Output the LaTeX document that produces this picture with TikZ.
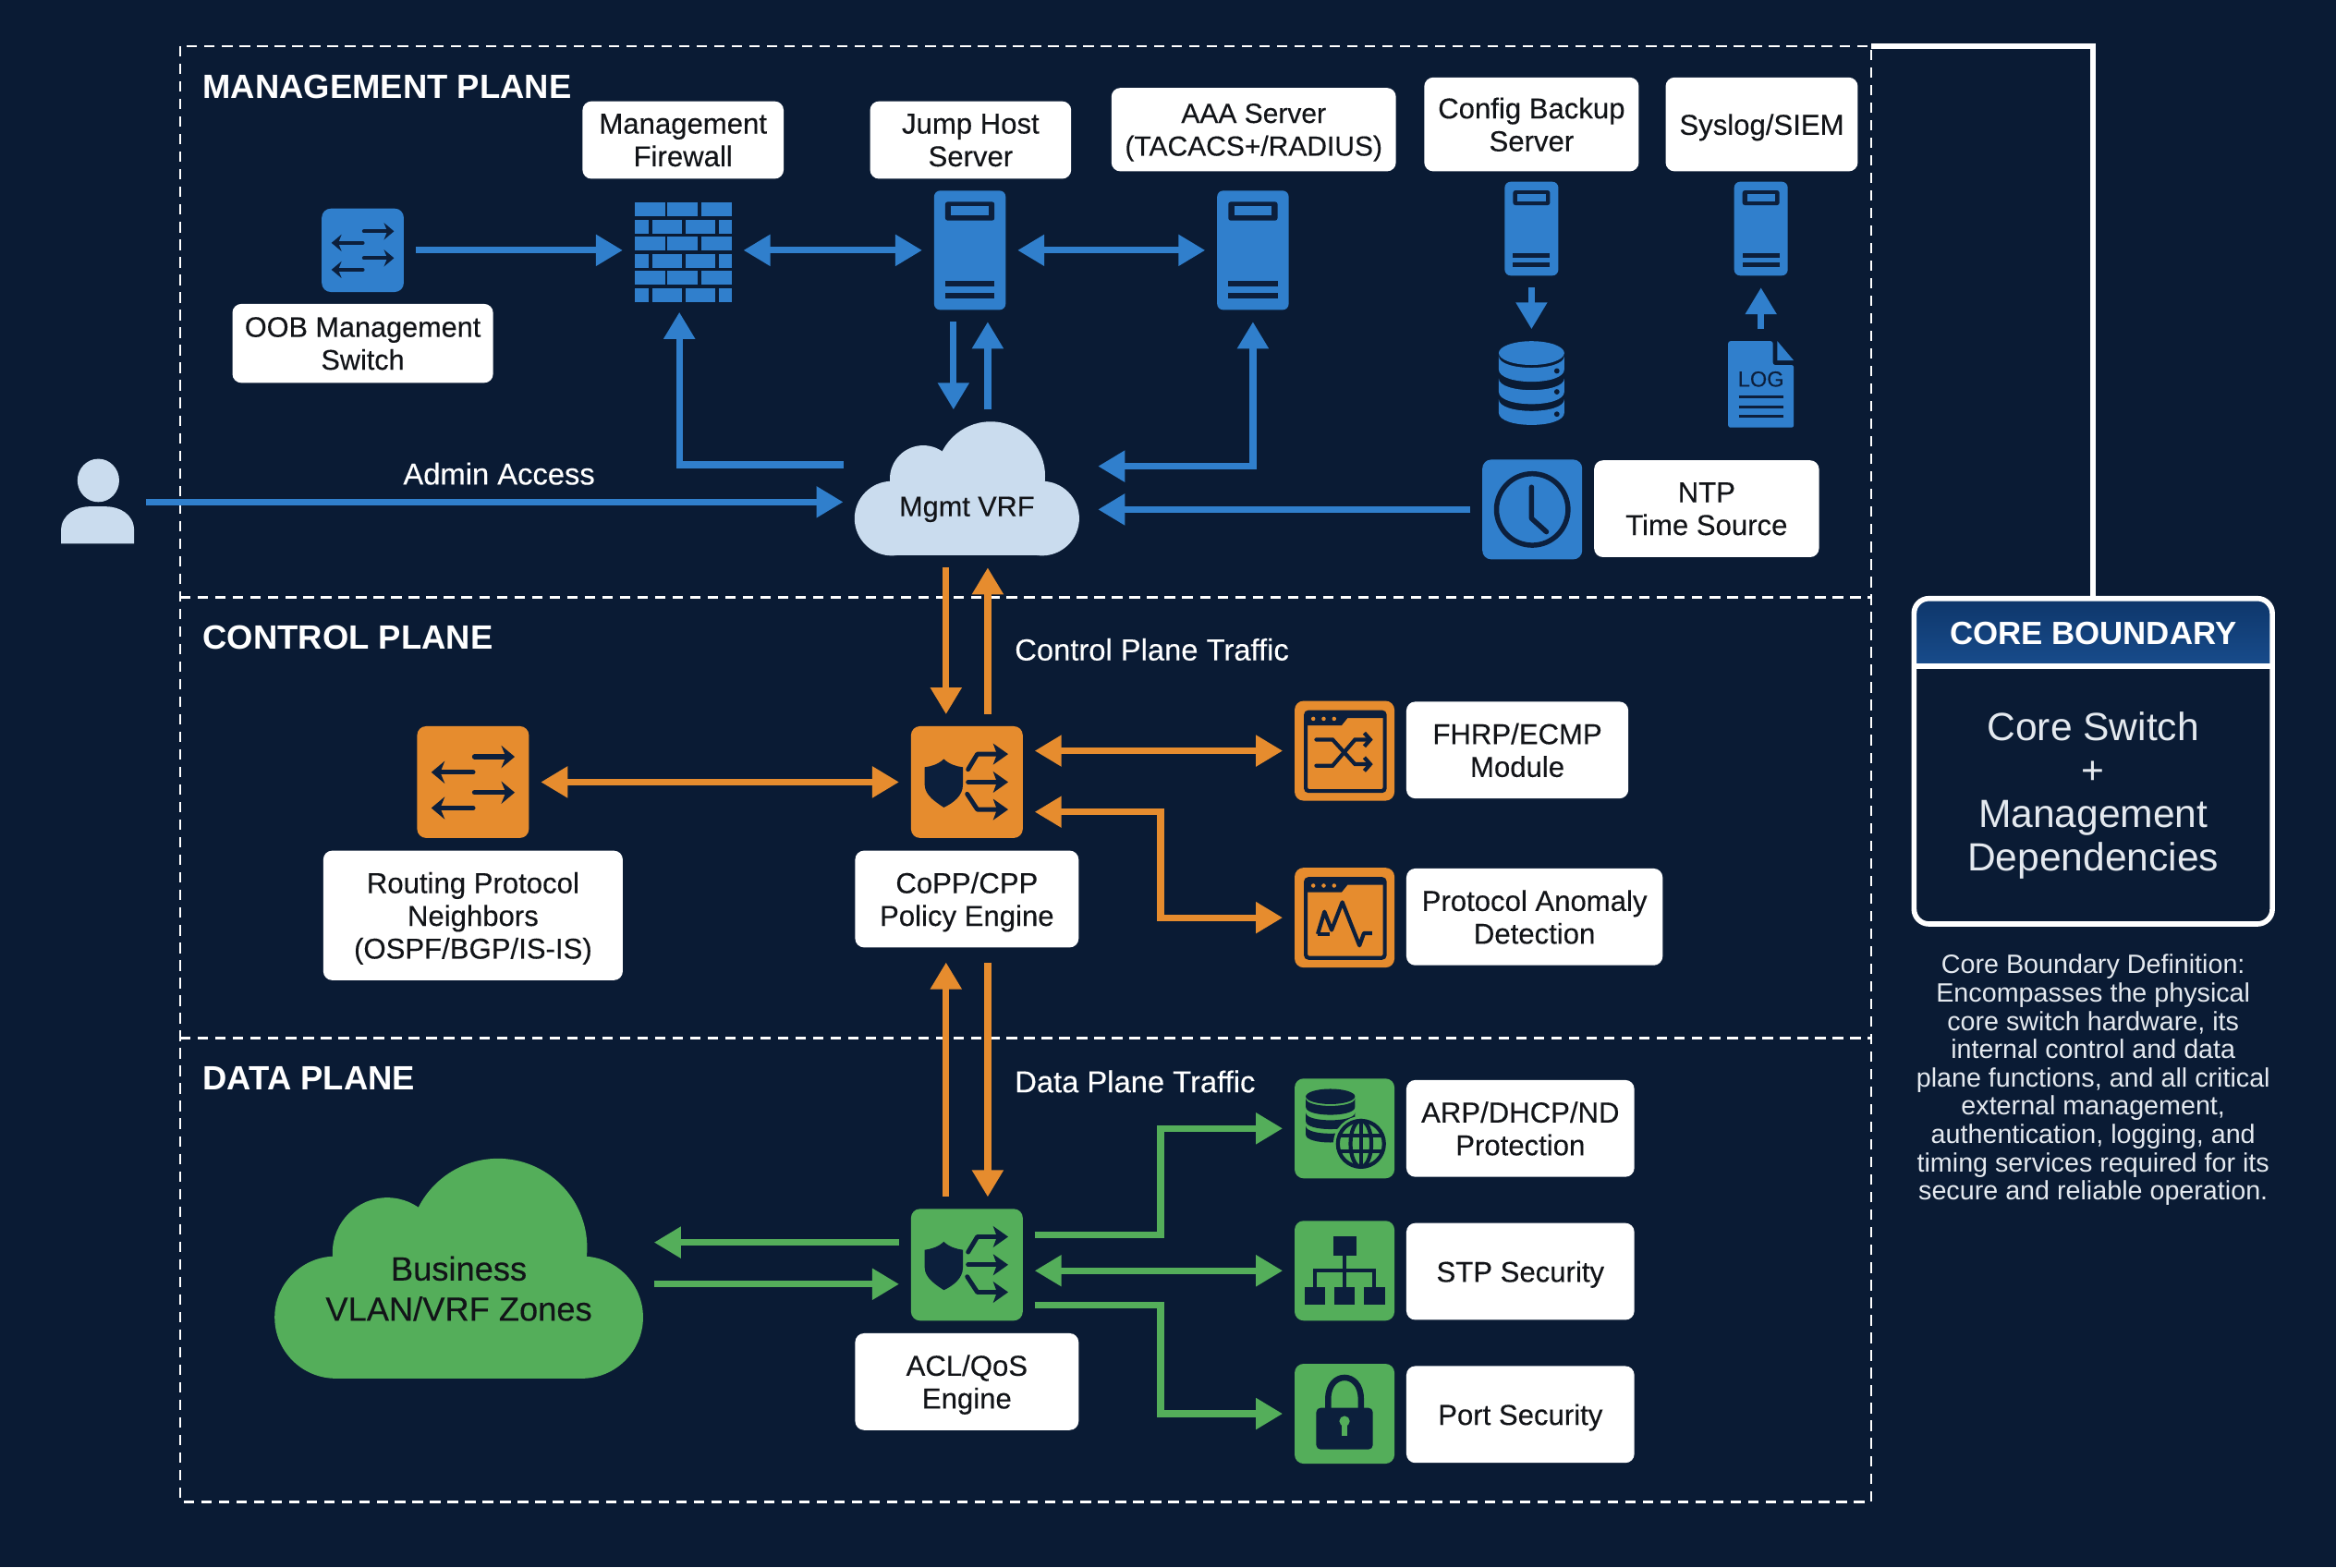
\documentclass[tikz,border=0pt]{standalone}
\usepackage{fontspec}
\setmainfont{Liberation Sans}
\newfontfamily\medfont[FakeBold=0.25]{Liberation Sans}
\usetikzlibrary{arrows.meta}
\definecolor{navy}{RGB}{10, 27, 52}
\definecolor{glyph}{RGB}{12, 31, 60}
\definecolor{mgmtblue}{RGB}{48, 127, 204}
\definecolor{ctrlorange}{RGB}{230, 140, 46}
\definecolor{datagreen}{RGB}{84, 174, 90}
\definecolor{cloudblue}{RGB}{202, 220, 238}
\definecolor{ink}{RGB}{18, 20, 24}
\definecolor{notegrey}{RGB}{228, 233, 239}
\definecolor{coretop}{RGB}{14, 54, 106}
\definecolor{corebottom}{RGB}{24, 76, 140}
\tikzset{
  lbl/.style={fill=white, text=ink, rounded corners=6pt, align=center, inner sep=0pt, text depth=0pt, font=\fontsize{19.3}{22}\selectfont\medfont},
  planetitle/.style={text=white, anchor=west, inner sep=0pt, font=\fontsize{22.6}{26}\selectfont\bfseries},
  flowtext/.style={text=white, inner sep=0pt, font=\fontsize{20.3}{23}\selectfont\medfont},
  iconbox/.style={rounded corners=6pt, outer sep=8pt, inner sep=0pt},
  bare/.style={outer sep=8pt, inner sep=0pt},
  planeline/.style={color=white, line width=1.7pt, dash pattern=on 7pt off 4.8pt},
  blueflow/.style={color=mgmtblue, line width=4.5pt},
  ctrlflow/.style={color=ctrlorange, line width=4.5pt},
  dataflow/.style={color=datagreen, line width=4.5pt},
  glyphline/.style={color=glyph, line width=2.6pt},
  glypharrow/.style={color=glyph, line cap=round, line width=2.6pt, -{Straight Barb[length=4pt,width=9pt]}},
  policyarrow/.style={color=glyph, line cap=round, line join=round, line width=3pt, -{Stealth[length=10pt,width=14pt,inset=2.5pt]}}
}
\newcommand{\cloudfill}[2]{
  \begin{scope}[shift={(#1.center)}, scale=#2]
    \fill (16,-8.5) circle (36.5);
    \fill (-29.3,-6.6) circle (22.4);
    \fill (-50.4,20) circle (25);
    \fill (50.4,20) circle (25);
    \fill (-50.4,-5) rectangle (50.4,45);
  \end{scope}
}
\newcommand{\switchglyph}[2]{
  \begin{scope}[shift={(#1.center)}, scale=#2, color=glyph, line cap=round, line width=3.3pt*#2]
    \draw[-{Stealth[length=9pt,width=15pt,inset=3pt,scale=#2]}] (1,-17) -- (28,-17);
    \draw[-{Stealth[length=9pt,width=15pt,inset=3pt,scale=#2]}] (0,-6.6) -- (-28,-6.6);
    \draw[-{Stealth[length=9pt,width=15pt,inset=3pt,scale=#2]}] (1,7) -- (28,7);
    \draw[-{Stealth[length=9pt,width=15pt,inset=3pt,scale=#2]}] (0,17.4) -- (-28,17.4);
  \end{scope}
}
\newcommand{\policyglyph}[1]{
  \begin{scope}[shift={(#1.center)}]
    \fill[glyph] (-15.5,-15.5) .. controls (-19,-12) and (-24,-10.5) .. (-28.3,-10) -- (-28.3,2) .. controls (-28.3,9) and (-20,14) .. (-15.5,17) .. controls (-9,14) and (-2.7,9) .. (-2.7,2) -- (-2.7,-10) .. controls (-7,-10.5) and (-12,-12) .. cycle;
    \draw[policyarrow] (0.8,-8.5) -- (7,-18.8) -- (27.7,-18.8);
    \draw[policyarrow] (0.8,0) -- (27.7,0);
    \draw[policyarrow] (0.2,8) -- (7,18.4) -- (27.7,18.4);
  \end{scope}
}
\newcommand{\windowglyph}[1]{
  \begin{scope}[shift={(#1.center)}]
    \draw[glyphline, rounded corners=2pt] (-26,-26) rectangle (27,27);
    \fill[glyph] (-26,-26) -- (27,-26) -- (27,-22) -- (2,-22) -- (-2,-17) -- (-26,-17) -- cycle;
    \foreach \d in {-21,-14,-7} {
      \fill[ctrlorange] (\d,-21.5) circle (1.4);
    }
  \end{scope}
}
\newcommand{\serverglyph}[3]{
  \begin{scope}[shift={(#1.center)}, xscale=#2, yscale=#3]
    \fill[glyph, rounded corners=1.5pt] (-16.5,-32.5) rectangle (16.5,-20);
    \fill[mgmtblue] (-12.5,-29.5) rectangle (12.5,-23.5);
    \fill[glyph] (-16.5,20.5) rectangle (16.5,24.5);
    \fill[glyph] (-16.5,28.5) rectangle (16.5,32.5);
  \end{scope}
}
\newcommand{\dbglyph}[2]{
  \fill[#1] (0,-21) ellipse (22 and 8);
  \foreach \s/\d in {-19/-9, -4/5, 10/20} {
    \fill[#1] (-22,\s) .. controls (-22,\s+10.5) and (22,\s+10.5) .. (22,\s) -- (22,\s+9) .. controls (22,\s+20) and (-22,\s+20) .. (-22,\s+9) -- cycle;
    \fill[#2] (17,\d) circle (1.8);
  }
}
\begin{document}
\begin{tikzpicture}[x=1pt, y=-1pt, >={Triangle[length=18pt,width=20pt]}]

  \useasboundingbox (0,0) rectangle (1568,1052);
  \fill[navy] (0,0) rectangle (1568,1052);

  \node[minimum width=1135pt, minimum height=977pt, inner sep=0pt, outer sep=0pt] (frame) at (688.5,519.5) {};
  \draw[planeline] (frame.north west) rectangle (frame.south east);
  \coordinate (ctrltop) at (0,401);
  \coordinate (datatop) at (0,697);
  \draw[planeline] (frame.west |- ctrltop) -- (frame.east |- ctrltop);
  \draw[planeline] (frame.west |- datatop) -- (frame.east |- datatop);

  \node[planetitle] (mgmttitle) at (136,58) {MANAGEMENT PLANE};
  \node[planetitle] (ctrltitle) at (136,428) {CONTROL PLANE};
  \node[planetitle] (datatitle) at (136,724) {DATA PLANE};

  \node[bare, minimum width=49pt, minimum height=57pt] (admin) at (65.5,337) {};
  \fill[cloudblue] (66,322.5) ellipse (14 and 14.5);
  \fill[cloudblue] (41,365) -- (41,356) .. controls (41,345) and (52,340) .. (60,340) -- (71,340) .. controls (80,340) and (90,345) .. (90,356) -- (90,365) -- cycle;

  \node[bare, minimum width=150pt, minimum height=90pt] (vrf) at (649,328) {};
  \begin{scope}[color=cloudblue]
    \cloudfill{vrf}{1}
  \end{scope}
  \node[flowtext, text=ink, text depth=0pt, font=\fontsize{19}{23}\selectfont\medfont] (vrftext) at (649,340) {Mgmt VRF};

  \node[iconbox, fill=mgmtblue, minimum width=55pt, minimum height=56pt] (oob) at (243.5,168) {};
  \switchglyph{oob}{0.75}
  \node[lbl, font=\fontsize{19}{22}\selectfont\medfont, minimum width=175pt, minimum height=53pt] (ooblbl) at (243.5,230.5) {OOB Management\\Switch};

  \node[bare, minimum width=65pt, minimum height=67pt] (firewall) at (458.5,168) {};
  \foreach \r in {0,2,4} {
    \foreach \c in {426,448,470.5} {
      \fill[mgmtblue] (\c,136+11.45*\r) rectangle +(20.5,9.4);
    }
  }
  \foreach \r in {1,3,5} {
    \foreach \c/\w in {426/9.5, 438/19.5, 460/20, 482.5/8.5} {
      \fill[mgmtblue] (\c,136+11.45*\r) rectangle +(\w,9.4);
    }
  }
  \node[lbl, minimum width=135pt, minimum height=52pt] (fwlbl) at (458.5,94) {Management\\Firewall};

  \node[iconbox, rounded corners=4pt, fill=mgmtblue, minimum width=48pt, minimum height=80pt] (jump) at (651,168) {};
  \serverglyph{jump}{1}{1}
  \node[lbl, minimum width=135pt, minimum height=52pt] (jumplbl) at (651.5,94) {Jump Host\\Server};

  \node[iconbox, rounded corners=4pt, fill=mgmtblue, minimum width=48pt, minimum height=80pt] (aaa) at (841,168) {};
  \serverglyph{aaa}{1}{1}
  \node[lbl, font=\fontsize{18.6}{22}\selectfont\medfont, minimum width=191pt, minimum height=56pt] (aaalbl) at (841.5,87) {AAA Server\\(TACACS+/RADIUS)};

  \node[iconbox, rounded corners=4pt, fill=mgmtblue, minimum width=36pt, minimum height=63pt] (cfg) at (1028,153.5) {};
  \serverglyph{cfg}{0.75}{0.79}
  \node[lbl, minimum width=144pt, minimum height=63pt] (cfglbl) at (1028,83.5) {Config Backup\\Server};

  \node[iconbox, rounded corners=4pt, fill=mgmtblue, minimum width=36pt, minimum height=63pt] (syslog) at (1182,153.5) {};
  \serverglyph{syslog}{0.75}{0.79}
  \node[lbl, minimum width=129pt, minimum height=63pt] (sysloglbl) at (1182.5,83.5) {Syslog/SIEM};

  \node[bare, minimum width=44pt, minimum height=58pt] (backup) at (1028,258) {};
  \begin{scope}[shift={(backup.center)}]
    \dbglyph{mgmtblue}{navy}
  \end{scope}

  \node[bare, minimum width=44pt, minimum height=58pt] (logfile) at (1182,258) {};
  \fill[mgmtblue, rounded corners=1.5pt] (1160,229) -- (1190,229) -- (1190,245) -- (1204,245) -- (1204,287) -- (1160,287) -- cycle;
  \fill[mgmtblue] (1193,229) -- (1204,242) -- (1193,242) -- cycle;
  \node[text=glyph, inner sep=0pt, font=\fontsize{14.6}{15}\selectfont\medfont] (logtext) at (1182,254.5) {LOG};
  \foreach \y in {266.5,273,279.5} {
    \draw[color=glyph, line width=1.8pt] (1167,\y) -- (1197,\y);
  }

  \node[iconbox, fill=mgmtblue, minimum width=67pt, minimum height=67pt] (ntp) at (1028.5,342) {};
  \draw[glyphline, line width=3.4pt] (ntp.center) circle (24);
  \draw[glyphline, line width=3.4pt, line cap=round, line join=round] (1028,327) -- (1028,348) -- (1038,357);
  \node[lbl, minimum width=151pt, minimum height=65pt] (ntplbl) at (1145.5,341.5) {NTP\\Time Source};

  \draw[blueflow, ->] (oob.east) -- (firewall.west);
  \draw[blueflow, <->] (firewall.east) -- (jump.west);
  \draw[blueflow, <->] (jump.east) -- (aaa.west);
  \draw[blueflow, ->] ([xshift=-11pt]jump.south) -- ([xshift=-9pt]vrf.north);
  \draw[blueflow, ->] ([xshift=14pt]vrf.north) -- ([xshift=12pt]jump.south);
  \draw[blueflow, ->] ([yshift=16pt]vrf.west) -| ([xshift=-2.5pt]firewall.south);
  \draw[blueflow, <->] ([xshift=5pt,yshift=15pt]vrf.east) -| (aaa.south);
  \draw[blueflow, ->] (admin.east) -- ([yshift=-9pt]vrf.west);
  \draw[blueflow, ->] (ntp.west) -- ([xshift=5pt,yshift=-14pt]vrf.east);
  \draw[blueflow, ->] (cfg.south) -- (backup.north);
  \draw[blueflow, ->] (logfile.north) -- (syslog.south);
  \node[flowtext] (admintext) at (335,318) {Admin Access};

  \node[iconbox, fill=ctrlorange, minimum width=75pt, minimum height=75pt] (routing) at (317.5,525) {};
  \switchglyph{routing}{1}
  \node[lbl, minimum width=201pt, minimum height=87pt] (routinglbl) at (317.5,614.5) {Routing Protocol\\Neighbors\\(OSPF/BGP/IS-IS)};

  \node[iconbox, fill=ctrlorange, minimum width=75pt, minimum height=75pt] (copp) at (649,525) {};
  \policyglyph{copp}
  \node[lbl, outer sep=10pt, minimum width=150pt, minimum height=65pt] (copplbl) at (649,603.5) {CoPP/CPP\\Policy Engine};

  \node[iconbox, fill=ctrlorange, minimum width=67pt, minimum height=67pt] (fhrp) at (902.5,504) {};
  \windowglyph{fhrp}
  \begin{scope}[shift={(fhrp.center)}]
    \draw[glypharrow] (-19,-7.5) -- (-8,-7.5) -- (7,9) -- (19,9);
    \draw[glypharrow] (-19,10) -- (-8,10) -- (7,-7.5) -- (19,-7.5);
  \end{scope}
  \node[lbl, minimum width=149pt, minimum height=65pt] (fhrplbl) at (1018.5,503.5) {FHRP/ECMP\\Module};

  \node[iconbox, fill=ctrlorange, minimum width=67pt, minimum height=67pt] (anomaly) at (902.5,616) {};
  \windowglyph{anomaly}
  \begin{scope}[shift={(anomaly.center)}]
    \draw[glyphline, line join=round] (-18,11) -- (-13.5,-4) -- (-8.7,8.3) -- (-1.5,-10.4) -- (10,18.7) -- (13,10.4) -- (18.5,10.4);
    \draw[glyphline] (-18,11) -- (-10,11);
  \end{scope}
  \node[lbl, minimum width=172pt, minimum height=65pt] (anomalylbl) at (1030,615.5) {Protocol Anomaly\\Detection};

  \coordinate (ctrlbus) at (779,580);
  \draw[ctrlflow, ->] ([xshift=-14pt]vrf.south) -- ([xshift=-14pt]copp.north);
  \draw[ctrlflow, ->] ([xshift=14pt]copp.north) -- ([xshift=14pt]vrf.south);
  \draw[ctrlflow, <->] (routing.east) -- (copp.west);
  \draw[ctrlflow, <->] ([yshift=21pt]copp.east) -- (fhrp.west);
  \draw[ctrlflow, <->] ([yshift=-20pt]copp.east) -| (ctrlbus) |- (anomaly.west);
  \node[flowtext, anchor=west] (ctrltext) at (681,436) {Control Plane Traffic};

  \node[bare, minimum width=246pt, minimum height=147pt] (zones) at (308,851.5) {};
  \begin{scope}[color=datagreen]
    \cloudfill{zones}{1.64}
  \end{scope}
  \node[text=ink, align=center, inner sep=0pt, font=\fontsize{22.5}{27}\selectfont\medfont] (zonestext) at (308,865) {Business\\VLAN/VRF Zones};

  \node[iconbox, fill=datagreen, minimum width=75pt, minimum height=75pt] (acl) at (649,849) {};
  \policyglyph{acl}
  \node[lbl, minimum width=150pt, minimum height=65pt] (acllbl) at (649,927.5) {ACL/QoS\\Engine};

  \node[iconbox, fill=datagreen, minimum width=67pt, minimum height=67pt] (arp) at (902.5,757.5) {};
  \begin{scope}[shift={(arp.center)}]
    \begin{scope}[shift={(-9.5,-8)}, xscale=0.75, yscale=0.64]
      \dbglyph{glyph}{glyph}
    \end{scope}
    \fill[datagreen] (11,10.3) circle (18.5);
    \draw[glyphline] (11,10.3) circle (15.5);
    \draw[glyphline] (11,10.3) ellipse (7 and 15.5);
    \draw[glyphline] (11,-5) -- (11,25.5);
    \draw[glyphline] (-3,5) -- (25,5);
    \draw[glyphline] (-3,15.5) -- (25,15.5);
  \end{scope}
  \node[lbl, minimum width=153pt, minimum height=65pt] (arplbl) at (1020.5,757.5) {ARP/DHCP/ND\\Protection};

  \node[iconbox, fill=datagreen, minimum width=67pt, minimum height=67pt] (stp) at (902.5,853) {};
  \begin{scope}[shift={(stp.center)}]
    \fill[glyph] (-7.5,-23) rectangle (8,-10);
    \draw[glyphline] (0,-10) -- (0,11);
    \draw[glyphline] (-20,11) -- (-20,0) -- (20,0) -- (20,11);
    \foreach \c in {-20,0,20} {
      \fill[glyph] (\c-7,11) rectangle (\c+7,23);
    }
  \end{scope}
  \node[lbl, minimum width=153pt, minimum height=65pt] (stplbl) at (1020.5,853.5) {STP Security};

  \node[iconbox, fill=datagreen, minimum width=67pt, minimum height=67pt] (port) at (902.5,949) {};
  \begin{scope}[shift={(port.center)}]
    \draw[glyphline, line width=4pt] (-11,-2) -- (-11,-10) .. controls (-11,-29) and (11,-29) .. (11,-10) -- (11,-2);
    \fill[glyph, rounded corners=3pt] (-19,-4) rectangle (19,24);
    \fill[datagreen] (0,5) circle (3.5);
    \fill[datagreen] (-2,5) rectangle (2,15);
  \end{scope}
  \node[lbl, minimum width=153pt, minimum height=65pt] (portlbl) at (1020.5,949.5) {Port Security};

  \coordinate (arpbus) at (779,800);
  \coordinate (portbus) at (779,900);
  \draw[ctrlflow, <-] ([xshift=-14pt]copplbl.south) -- ([xshift=-14pt]acl.north);
  \draw[ctrlflow, ->] ([xshift=14pt]copplbl.south) -- ([xshift=14pt]acl.north);
  \draw[dataflow, ->] ([yshift=15pt]acl.west) -- ([yshift=17.5pt]zones.east);
  \draw[dataflow, ->] ([yshift=-10.5pt]zones.east) -- ([yshift=-13pt]acl.west);
  \draw[dataflow, ->] ([yshift=20pt]acl.east) -| (arpbus) |- (arp.west);
  \draw[dataflow, <->] ([yshift=-4pt]acl.east) -- (stp.west);
  \draw[dataflow, ->] ([yshift=-27pt]acl.east) -| (portbus) |- (port.west);
  \node[flowtext, anchor=west] (datatext) at (681,726) {Data Plane Traffic};

  \shade[top color=coretop, bottom color=corebottom] (1285,447) [rounded corners=9pt] -- (1285,402) -- (1525,402) [sharp corners] -- (1525,447) -- cycle;
  \node[draw=white, line width=3.5pt, rounded corners=10pt, inner sep=0pt, outer sep=0pt, minimum width=240.5pt, minimum height=218.5pt] (core) at (1405,511) {};
  \coordinate (coreline) at (0,447);
  \draw[color=white, line width=3.5pt] (core.west |- coreline) -- (core.east |- coreline);
  \draw[color=white, line width=3.5pt] (frame.north east) -| (core.north);
  \node[text=white, inner sep=0pt, font=\fontsize{21.6}{26}\selectfont\bfseries] (coretitle) at (1405,425) {CORE BOUNDARY};
  \node[text=notegrey, align=center, inner sep=0pt, font=\fontsize{26.4}{29}\selectfont] (coretext) at (1405,534) {Core Switch\\+\\Management\\Dependencies};
  \node[text=notegrey, align=center, inner sep=0pt, font=\fontsize{17.8}{19}\selectfont] (corenote) at (1405,725) {Core Boundary Definition:\\Encompasses the physical\\core switch hardware, its\\internal control and data\\plane functions, and all critical\\external management,\\authentication, logging, and\\timing services required for its\\secure and reliable operation.};

\end{tikzpicture}
\end{document}
